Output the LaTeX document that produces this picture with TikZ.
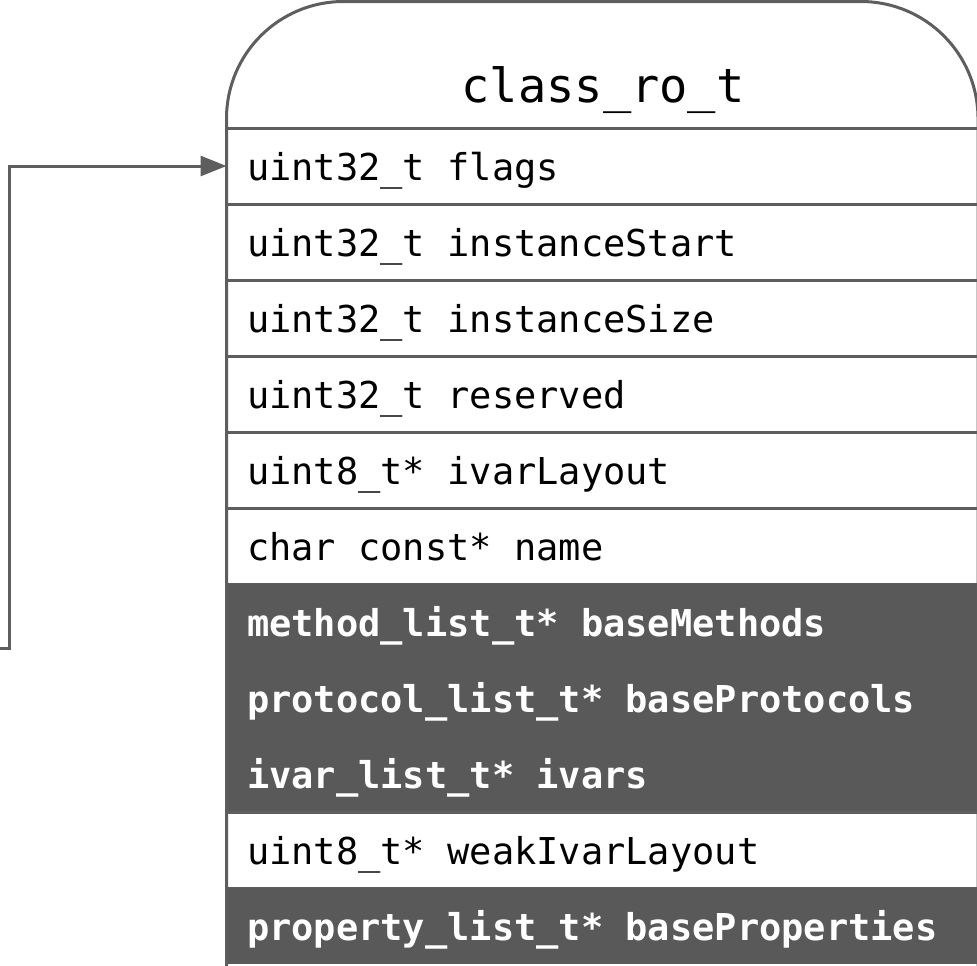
\documentclass[tikz,border=0pt]{standalone}
\usepackage{fontspec}
\setmonofont{DejaVu Sans Mono}[WordSpace={1,0,0}]
\usetikzlibrary{arrows.meta,positioning}
\definecolor{edge}{HTML}{5E5E5E}
\definecolor{shade}{HTML}{595959}

\begin{document}
\begin{tikzpicture}[
  x=0.5pt, y=-0.5pt,
  font=\ttfamily\fontsize{18.5}{22}\selectfont,
  node distance=0pt,
  field/.style={draw=edge, line width=1.5pt, fill=white, outer sep=0pt,
                minimum height=38pt, text width=355.25pt, inner xsep=10.25pt,
                inner ysep=0pt, text height=26pt, text depth=12pt,
                align=flush left},
  ptr/.style={field, draw=none, fill=shade, text=white,
              font=\ttfamily\bfseries\fontsize{18.5}{22}\selectfont},
  ar/.style={-{Triangle[length=13pt, width=10pt]}, draw=edge, line width=1.5pt}
]
\useasboundingbox (0,0) rectangle (977,965);

% struct fields, top to bottom
\node[field, anchor=north west] (flags) at (226.5,128) {uint32\_t flags};
\node[field, below=of flags] (istart) {uint32\_t instanceStart};
\node[field, below=of istart] (isize) {uint32\_t instanceSize};
\node[field, below=of isize] (resv) {uint32\_t reserved};
\node[field, below=of resv] (ilay) {uint8\_t* ivarLayout};
\node[field, below=of ilay] (name) {char const* name};
\node[ptr, below=of name] (meth) {method\_list\_t* baseMethods};
\node[ptr, below=of meth] (prot) {protocol\_list\_t* baseProtocols};
\node[ptr, below=of prot] (ivars) {ivar\_list\_t* ivars};
\node[field, below=of ivars] (wlay) {uint8\_t* weakIvarLayout};
\node[ptr, below=of wlay] (props) {property\_list\_t* baseProperties};

% outline with rounded top
\draw[edge, line width=1.5pt, rounded corners=58.5pt]
  (226.5,990) |- (978,1.5) -- (978,990);
\node[font=\ttfamily\fontsize{23.5}{28}\selectfont, anchor=base] (head)
  at (603,102) {class\_ro\_t};

% incoming pointer
\coordinate (src) at (-10,648);
\coordinate (bend) at (9.5,648);
\draw[ar] (src) -- (bend) |- (flags.west);
\end{tikzpicture}
\end{document}
